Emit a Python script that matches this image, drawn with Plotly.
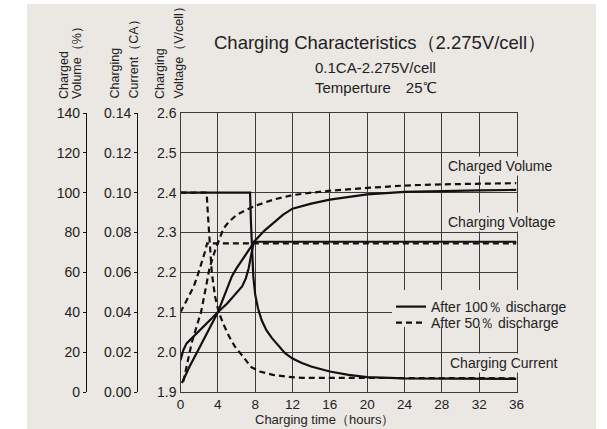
import plotly.graph_objects as go

# ---------------- data ----------------
x_ticks = [0, 4, 8, 12, 16, 20, 24, 28, 32, 36]
volt_ticks = [1.9, 2.0, 2.1, 2.2, 2.3, 2.4, 2.5, 2.6]
vol_ticks = [0, 20, 40, 60, 80, 100, 120, 140]
cur_ticks = [0.00, 0.02, 0.04, 0.06, 0.08, 0.10, 0.12, 0.14]

# After 100% discharge
t_volt_100 = [0, 0.3, 0.65, 1.2, 2.0, 3.0, 4.0, 5.0, 6.0, 6.6, 7.0, 7.3, 7.5, 7.7, 7.85, 36]
volt_100 = [1.98, 2.005, 2.022, 2.035, 2.055, 2.078, 2.100, 2.122, 2.148, 2.165, 2.185, 2.21, 2.235, 2.262, 2.277, 2.277]

t_vol_100 = [0.15, 1, 2, 3, 4, 4.5, 5, 5.5, 6, 6.5, 7, 7.5, 8, 9, 10, 11, 12, 14, 16, 18, 20, 24, 28, 32, 36]
vol_100 = [4.5, 13, 22, 31, 40, 46, 52, 58, 62, 65.5, 69, 72.5, 76, 81, 85, 89, 92, 94.5, 96.5, 98, 99.2, 100.4, 100.9, 101.2, 101.4]

t_cur_100 = [0, 7.45, 7.55, 7.65, 7.8, 8.0, 8.3, 8.7, 9.2, 9.8, 10.5, 11.2, 12, 13, 14, 15, 16, 18, 20, 24, 30, 36]
cur_100 = [0.1, 0.1, 0.085, 0.07, 0.058, 0.049, 0.042, 0.036, 0.031, 0.027, 0.023, 0.0195, 0.0168,
           0.0145, 0.0128, 0.0114, 0.0103, 0.0086, 0.0075, 0.0068, 0.0066, 0.0066]

# After 50% discharge
t_volt_50 = [0, 0.5, 1.0, 1.4, 1.8, 2.3, 2.6, 2.85, 36]
volt_50 = [2.1, 2.122, 2.145, 2.164, 2.19, 2.225, 2.25, 2.273, 2.273]

t_vol_50 = [0.3, 0.66, 1.2, 1.7, 2.2, 2.7, 3.1, 3.7, 4.6, 5.2, 6, 7, 8, 10, 12, 14, 16, 20, 24, 28, 32, 36]
vol_50 = [5.2, 12.6, 24.6, 32.5, 40, 52, 62, 71, 82, 85.5, 88.8, 91.3, 93.4, 96.6, 98.8, 100, 101,
          102.4, 103.6, 104.2, 104.6, 104.8]

t_cur_50 = [0, 2.8, 2.95, 3.1, 3.35, 3.7, 4.1, 4.6, 5.2, 5.8, 6.4, 7.0, 7.5, 8.5, 9.9, 11.5, 13.1, 36]
cur_50 = [0.1, 0.1, 0.088, 0.076, 0.060, 0.048, 0.040, 0.034, 0.028, 0.023, 0.0196, 0.016, 0.0127,
          0.0103, 0.0086, 0.0076, 0.0071, 0.0069]

# ---------------- styling ----------------
W, H = 607, 429
BG = "#ebe7e3"
INK = "#111111"
GRID = "#3a3a3a"
TXT = "#222222"
FONT = "Liberation Sans, Arial, Helvetica, sans-serif"
LW = 2.2
DASH = "6px,4px"


def px(x):
    return x / W


def py(y):
    return (H - y) / H


fig = go.Figure()

solid = dict(color=INK, width=LW)
dashed = dict(color=INK, width=LW, dash=DASH)

fig.add_trace(go.Scatter(x=t_vol_50, y=vol_50, yaxis="y2", mode="lines", line=dashed,
                         name="After 50％ discharge", showlegend=False))
fig.add_trace(go.Scatter(x=t_volt_50, y=volt_50, yaxis="y", mode="lines", line=dashed,
                         name="After 50％ discharge", showlegend=True, legend="legend2"))
fig.add_trace(go.Scatter(x=t_cur_50, y=cur_50, yaxis="y3", mode="lines", line=dashed,
                         name="After 50％ discharge", showlegend=False))
fig.add_trace(go.Scatter(x=t_vol_100, y=vol_100, yaxis="y2", mode="lines", line=solid,
                         name="After 100％ discharge", showlegend=False))
fig.add_trace(go.Scatter(x=t_volt_100, y=volt_100, yaxis="y", mode="lines", line=solid,
                         name="After 100％ discharge", showlegend=True, legend="legend"))
fig.add_trace(go.Scatter(x=t_cur_100, y=cur_100, yaxis="y3", mode="lines", line=solid,
                         name="After 100％ discharge", showlegend=False))

x_dom = [px(180.5), px(516.5)]
y_dom = [py(392), py(113)]

tickfont = dict(family=FONT, size=14, color=TXT)
legfont = dict(family=FONT, size=14, color=TXT)

fig.update_layout(
    width=W, height=H,
    margin=dict(l=0, r=0, t=0, b=0, pad=0, autoexpand=False),
    paper_bgcolor="white",
    plot_bgcolor=BG,
    font=dict(family=FONT, size=14, color=TXT),
    showlegend=True,
    legend=dict(x=px(391), y=py(291), xanchor="left", yanchor="top", bgcolor="rgba(0,0,0,0)",
                font=legfont, borderwidth=0, itemwidth=30),
    legend2=dict(x=px(391), y=py(307), xanchor="left", yanchor="top", bgcolor="rgba(0,0,0,0)",
                 font=legfont, borderwidth=0, itemwidth=30),
    xaxis=dict(domain=x_dom, range=[0, 36], tickvals=x_ticks, ticktext=[str(v) for v in x_ticks],
               showgrid=True, gridcolor=GRID, gridwidth=1.4, showline=True, linecolor=GRID,
               linewidth=1.4, mirror=True, zeroline=False, ticks="", automargin=False,
               tickfont=dict(family=FONT, size=13.5, color=TXT)),
    yaxis=dict(domain=y_dom, range=[1.9, 2.6], tickvals=volt_ticks,
               ticktext=[f"{v:.1f}" for v in volt_ticks], automargin=False,
               showgrid=True, gridcolor=GRID, gridwidth=1.4, showline=True, linecolor=GRID,
               linewidth=1.4, mirror=True, zeroline=False, ticks="", tickfont=tickfont),
    yaxis2=dict(overlaying="y", anchor="free", position=px(86), side="left", range=[0, 140],
                tickvals=vol_ticks, ticktext=[str(v) for v in vol_ticks], showgrid=False,
                zeroline=False, showline=True, linecolor=INK, linewidth=1.4, ticks="outside",
                ticklen=3, tickwidth=1.4, tickcolor=INK, tickfont=tickfont, automargin=False),
    yaxis3=dict(overlaying="y", anchor="free", position=px(137.3), side="left", range=[0, 0.14],
                tickvals=cur_ticks, ticktext=[f"{v:.2f}" for v in cur_ticks], showgrid=False,
                zeroline=False, showline=True, linecolor=INK, linewidth=1.4, ticks="outside",
                ticklen=3, tickwidth=1.4, tickcolor=INK, tickfont=tickfont, automargin=False),
    shapes=[
        dict(type="rect", xref="paper", yref="paper", x0=px(27), x1=px(596), y0=0, y1=py(4),
             fillcolor=BG, line=dict(width=0), layer="below"),
        # background patch behind the legend (hides grid lines like the reference)
        dict(type="rect", xref="paper", yref="paper", x0=px(392), x1=px(596), y0=py(327),
             y1=py(290), fillcolor=BG, opacity=1, line=dict(width=0), layer="above"),
    ],
)

ann = []
ann.append(dict(text="Charging Characteristics（2.275V/cell）", x=px(380), y=py(42), xref="paper",
                yref="paper", xanchor="center", yanchor="middle", showarrow=False,
                font=dict(family=FONT, size=18.5, color=TXT)))
ann.append(dict(text="0.1CA-2.275V/cell<br>Temperture\u300025℃", x=px(313), y=py(77),
                xref="paper", yref="paper", xanchor="left", yanchor="middle", align="left",
                showarrow=False, font=dict(family=FONT, size=15, color=TXT)))
ann.append(dict(text="Charging time（hours）", x=px(325), y=py(419), xref="paper", yref="paper",
                xanchor="center", yanchor="middle", showarrow=False,
                font=dict(family=FONT, size=13, color=TXT)))
# rotated axis titles
for txt, xc in [("Charged", 64), ("Volume（%）", 76.5), ("Charging", 114), ("Current（CA）", 133),
                ("Charging", 159.5), ("Voltage（V/cell）", 178.5)]:
    ann.append(dict(text=txt, x=px(xc), y=py(101), xref="paper", yref="paper", textangle=-90,
                    xanchor="center", yanchor="bottom", showarrow=False,
                    font=dict(family=FONT, size=12.5, color=TXT)))
# curve labels
for txt, xc, yc in [("Charged Volume", 500, 165.5), ("Charging Voltage", 502, 221.7),
                    ("Charging Current", 503, 363)]:
    ann.append(dict(text=txt, x=px(xc), y=py(yc), xref="paper", yref="paper", xanchor="center",
                    yanchor="middle", showarrow=False, bgcolor=BG,
                    font=dict(family=FONT, size=14, color=TXT)))
fig.update_layout(annotations=ann)

fig.write_html("out.html")
